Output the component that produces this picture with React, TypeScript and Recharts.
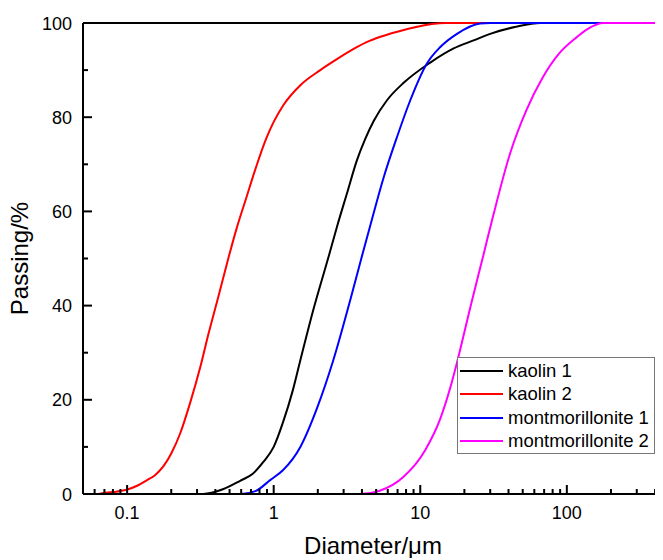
import { LineChart, Line, XAxis, YAxis, ReferenceLine, Legend } from 'recharts';

// [diameter in µm, cumulative passing in %]
const kaolin1: [number, number][] = [
  [0.05, 0], [0.33, 0], [0.45, 1], [0.59, 2.8], [0.72, 4.3], [0.85, 6.8], [1.0, 10],
  [1.16, 15.3], [1.35, 22], [1.52, 28.4], [1.86, 39], [2.4, 51], [2.7, 56.7],
  [3.16, 63.8], [3.7, 70.9], [4.2, 75.3], [4.81, 79.2], [5.93, 83.6], [7.7, 87.3],
  [11.7, 91.6], [16.9, 94.6], [23.1, 96.3], [30, 97.7], [45, 99.2], [66, 100], [453, 100],
];
const kaolin2: [number, number][] = [
  [0.05, 0], [0.062, 0], [0.069, 0.2], [0.08, 0.4], [0.099, 0.9], [0.118, 1.8],
  [0.136, 2.9], [0.155, 4.0], [0.177, 5.9], [0.2, 8.6], [0.231, 13], [0.27, 19.5],
  [0.316, 27], [0.359, 34], [0.42, 42], [0.49, 50], [0.56, 56.5], [0.652, 63],
  [0.76, 69.5], [0.89, 75.5], [1.0, 79], [1.16, 82.5], [1.52, 86.8], [2.08, 90],
  [2.6, 92], [3.51, 94.5], [4.5, 96.2], [5.93, 97.5], [7.5, 98.4], [9.5, 99.2],
  [12, 99.8], [15, 100], [453, 100],
];
const montmorillonite1: [number, number][] = [
  [0.05, 0], [0.6, 0], [0.75, 0.6], [0.95, 3.0], [1.16, 5.1], [1.52, 10], [1.99, 18.5],
  [2.55, 28.4], [3.33, 41.2], [4.08, 51.5], [4.56, 57], [5.6, 67], [6.94, 75.8],
  [8.55, 83.6], [11.1, 91.4], [13.7, 94.9], [17.8, 97.7], [25.6, 99.9], [30, 100], [453, 100],
];
const montmorillonite2: [number, number][] = [
  [0.05, 0], [3.9, 0], [5.3, 0.7], [7.66, 3.6], [10.8, 9.3], [13.7, 16], [16, 22.5],
  [18, 28.5], [21.9, 39.5], [26.9, 50.6], [31.4, 59], [41, 72.3], [53, 81.5],
  [68.6, 88.5], [89, 93.6], [117, 97], [140, 98.8], [177, 100], [453, 100],
];

const X_MAJOR = [0.1, 1, 10, 100];
const X_TICKS = [
  0.06, 0.07, 0.08, 0.09, 0.1, 0.2, 0.3, 0.4, 0.5, 0.6, 0.7, 0.8, 0.9,
  1, 2, 3, 4, 5, 6, 7, 8, 9, 10, 20, 30, 40, 50, 60, 70, 80, 90,
  100, 200, 300, 400,
];
const Y_MAJOR = [0, 20, 40, 60, 80, 100];
const Y_TICKS = [0, 10, 20, 30, 40, 50, 60, 70, 80, 90, 100];

const FONT = '"Liberation Sans", Arial, sans-serif';

const toPts = (rows: [number, number][]) => rows.map(([d, p]) => ({ d, p }));

function XTick({ x, y, payload }: any) {
  const major = X_MAJOR.includes(payload.value);
  return (
    <g>
      <line x1={x} x2={x} y1={y} y2={y - (major ? 9 : 5)} stroke="#000" strokeWidth={2} />
      {major && (
        <text x={x} y={y + 25} textAnchor="middle" fontSize={18} fontFamily={FONT} fill="#000">
          {payload.value}
        </text>
      )}
    </g>
  );
}

function YTick({ x, y, payload }: any) {
  const major = Y_MAJOR.includes(payload.value);
  return (
    <g>
      <line x1={x} x2={x + (major ? 9 : 5)} y1={y} y2={y} stroke="#000" strokeWidth={2} />
      {major && (
        <text x={x - 11} y={y} dy={6.5} textAnchor="end" fontSize={18} fontFamily={FONT} fill="#000">
          {payload.value}
        </text>
      )}
    </g>
  );
}

function LegendBox({ payload }: any) {
  return (
    <div
      style={{
        border: '1px solid #777',
        background: '#fff',
        padding: '1px 2px 0 2px',
        fontFamily: FONT,
        fontSize: 18.5,
        color: '#000',
        boxSizing: 'border-box',
      }}
    >
      {(payload || []).map((p: any) => (
        <div key={p.value} style={{ display: 'flex', alignItems: 'center', height: 23.5 }}>
          <span style={{ width: 43, height: 2, background: p.color, marginRight: 5, flex: 'none' }} />
          <span>{p.value}</span>
        </div>
      ))}
    </div>
  );
}

export default function App() {
  // marginLeft -8 cancels the body margin so the svg starts at the window's left edge
  return (
    <div style={{ background: '#fff', marginLeft: -8 }}>
      <LineChart width={663} height={550} margin={{ top: 15, right: 0, bottom: 0, left: 0 }}>
        <XAxis
          dataKey="d"
          type="number"
          scale="log"
          domain={[0.05, 453]}
          allowDataOverflow
          ticks={X_TICKS}
          interval={0}
          tick={<XTick />}
          tickLine={false}
          tickSize={0}
          tickMargin={0}
          height={64}
          axisLine={{ stroke: '#000', strokeWidth: 2 }}
          label={{
            value: 'Diameter/μm',
            position: 'insideBottom',
            offset: 4,
            style: { fontSize: 24, fontFamily: FONT, fill: '#000' },
          }}
        />
        <YAxis
          type="number"
          domain={[0, 100]}
          ticks={Y_TICKS}
          interval={0}
          tick={<YTick />}
          tickLine={false}
          tickSize={0}
          tickMargin={0}
          width={83}
          axisLine={{ stroke: '#000', strokeWidth: 2 }}
          label={{
            value: 'Passing/%',
            angle: -90,
            position: 'insideLeft',
            offset: 19,
            style: { fontSize: 24, fontFamily: FONT, fill: '#000', textAnchor: 'middle' },
          }}
        />
        <ReferenceLine y={100} stroke="#000" strokeWidth={2} ifOverflow="visible" />
        <Line data={toPts(kaolin1)} dataKey="p" name="kaolin 1" type="monotone" stroke="#000000" strokeWidth={2} dot={false} isAnimationActive={false} />
        <Line data={toPts(kaolin2)} dataKey="p" name="kaolin 2" type="monotone" stroke="#ff0000" strokeWidth={2} dot={false} isAnimationActive={false} />
        <Line data={toPts(montmorillonite1)} dataKey="p" name="montmorillonite 1" type="monotone" stroke="#0000ff" strokeWidth={2} dot={false} isAnimationActive={false} />
        <Line data={toPts(montmorillonite2)} dataKey="p" name="montmorillonite 2" type="monotone" stroke="#ff00ff" strokeWidth={2} dot={false} isAnimationActive={false} />
        <Legend
          layout="vertical"
          align="center"
          verticalAlign="middle"
          content={<LegendBox />}
          wrapperStyle={{ position: 'absolute', left: 457, top: 349, width: 198 }}
        />
      </LineChart>
    </div>
  );
}
